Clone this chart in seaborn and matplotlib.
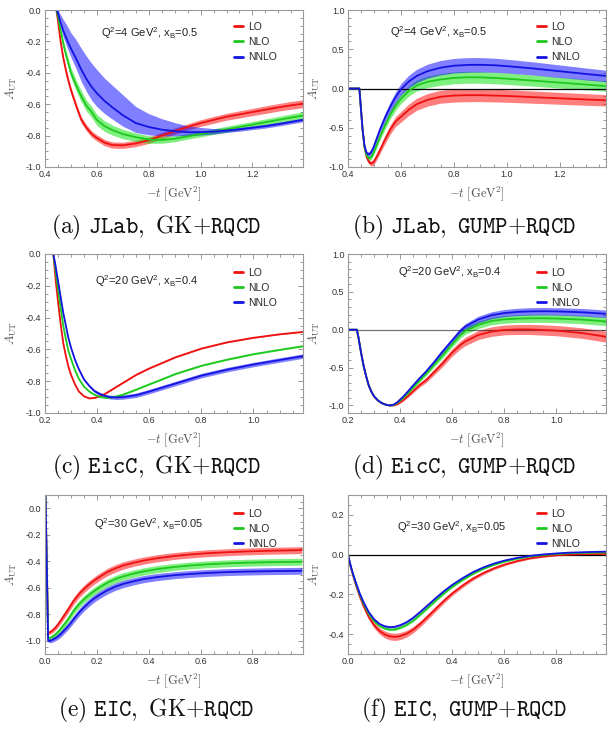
import numpy as np
import pandas as pd
import matplotlib
matplotlib.use('Agg')
import matplotlib.pyplot as plt
import seaborn as sns
from matplotlib.ticker import MultipleLocator, FuncFormatter
from matplotlib.lines import Line2D

# ---------------- data ----------------
ORDERS = ['LO', 'NLO', 'NNLO']

# (a) JLab, GK+RQCD
xa = [0.400, 0.444, 0.450, 0.460, 0.470, 0.480, 0.490, 0.500, 0.520, 0.540, 0.560, 0.580, 0.600, 0.630, 0.660,
      0.700, 0.750, 0.800, 0.850, 0.900, 0.950, 1.000, 1.050, 1.100, 1.150, 1.200, 1.250, 1.300, 1.350, 1.395]
lo_a = [0, 0, -0.07, -0.20, -0.30, -0.38, -0.45, -0.51, -0.61, -0.70, -0.75, -0.79, -0.815, -0.845, -0.86,
        -0.862, -0.85, -0.83, -0.80, -0.772, -0.745, -0.72, -0.70, -0.68, -0.665, -0.65, -0.635, -0.62, -0.607, -0.597]
nlo_a = [0, 0, -0.04, -0.13, -0.21, -0.28, -0.34, -0.40, -0.48, -0.55, -0.61, -0.65, -0.70, -0.74, -0.765,
         -0.79, -0.81, -0.825, -0.828, -0.82, -0.805, -0.79, -0.775, -0.76, -0.745, -0.73, -0.715, -0.70, -0.685, -0.672]
nnlo_a = [0, 0, -0.02, -0.08, -0.13, -0.17, -0.21, -0.245, -0.31, -0.38, -0.44, -0.49, -0.53, -0.58, -0.62,
          -0.67, -0.72, -0.745, -0.762, -0.772, -0.778, -0.778, -0.775, -0.768, -0.76, -0.75, -0.74, -0.727, -0.713, -0.70]
err_lo_a = [0, 0, 0.008, 0.012, 0.015, 0.018, 0.02, 0.02, 0.02, 0.02, 0.02, 0.02, 0.02, 0.02, 0.02,
            0.02, 0.02, 0.02, 0.02, 0.02, 0.02, 0.021, 0.022, 0.022, 0.023, 0.023, 0.024, 0.024, 0.025, 0.025]
err_nlo_a = [0, 0, 0.01, 0.018, 0.024, 0.028, 0.03, 0.032, 0.034, 0.035, 0.035, 0.035, 0.035, 0.034, 0.032,
             0.03, 0.027, 0.024, 0.021, 0.019, 0.018, 0.018, 0.018, 0.019, 0.02, 0.02, 0.021, 0.022, 0.023, 0.024]
err_nnlo_up_a = [0, 0, 0.02, 0.05, 0.07, 0.085, 0.095, 0.10, 0.12, 0.135, 0.145, 0.15, 0.15, 0.145, 0.14,
                 0.13, 0.105, 0.085, 0.07, 0.055, 0.04, 0.03, 0.02, 0.015, 0.012, 0.012, 0.012, 0.012, 0.012, 0.012]
err_nnlo_dn_a = [0, 0, 0.01, 0.03, 0.04, 0.045, 0.05, 0.055, 0.065, 0.075, 0.08, 0.085, 0.085, 0.08, 0.075,
                 0.07, 0.06, 0.05, 0.04, 0.03, 0.022, 0.018, 0.015, 0.012, 0.012, 0.012, 0.012, 0.012, 0.012, 0.012]

# (b) JLab, GUMP+RQCD
xb = [0.400, 0.443, 0.448, 0.455, 0.462, 0.470, 0.478, 0.486, 0.495, 0.505, 0.520, 0.540, 0.560, 0.580,
      0.600, 0.630, 0.660, 0.700, 0.750, 0.800, 0.850, 0.900, 0.950, 1.000, 1.100, 1.200, 1.300, 1.375]
lo_b = [0, 0, -0.22, -0.52, -0.74, -0.87, -0.93, -0.955, -0.945, -0.89, -0.79, -0.65, -0.52, -0.42,
        -0.36, -0.27, -0.20, -0.145, -0.105, -0.09, -0.085, -0.085, -0.09, -0.095, -0.11, -0.125, -0.14, -0.15]
nlo_b = [0, 0, -0.22, -0.52, -0.74, -0.85, -0.89, -0.88, -0.83, -0.75, -0.62, -0.47, -0.33, -0.22,
         -0.13, -0.03, 0.04, 0.085, 0.115, 0.135, 0.143, 0.142, 0.135, 0.125, 0.10, 0.075, 0.05, 0.03]
nnlo_b = [0, 0, -0.22, -0.52, -0.72, -0.82, -0.84, -0.82, -0.76, -0.67, -0.53, -0.37, -0.23, -0.11,
          -0.01, 0.09, 0.16, 0.22, 0.265, 0.29, 0.30, 0.302, 0.297, 0.285, 0.255, 0.22, 0.185, 0.16]
err_lo_b = [0, 0, 0.01, 0.015, 0.02, 0.025, 0.03, 0.032, 0.035, 0.04, 0.045, 0.052, 0.058, 0.063,
            0.068, 0.073, 0.077, 0.08, 0.082, 0.083, 0.083, 0.082, 0.081, 0.08, 0.078, 0.076, 0.074, 0.072]
err_nlo_b = [0, 0, 0.01, 0.015, 0.02, 0.022, 0.026, 0.03, 0.033, 0.037, 0.042, 0.048, 0.053, 0.058,
             0.062, 0.066, 0.07, 0.073, 0.075, 0.076, 0.076, 0.075, 0.074, 0.073, 0.071, 0.069, 0.067, 0.065]
err_nnlo_b = [0, 0, 0.01, 0.015, 0.02, 0.025, 0.03, 0.033, 0.037, 0.042, 0.048, 0.055, 0.062, 0.068,
              0.074, 0.08, 0.085, 0.089, 0.092, 0.093, 0.093, 0.092, 0.09, 0.088, 0.084, 0.08, 0.076, 0.073]

# (c) EicC, GK+RQCD
xc = [0.232, 0.240, 0.250, 0.260, 0.270, 0.280, 0.290, 0.300, 0.315, 0.330, 0.350, 0.370, 0.390, 0.410,
      0.430, 0.450, 0.475, 0.500, 0.550, 0.600, 0.650, 0.700, 0.800, 0.900, 1.000, 1.100, 1.190]
lo_c = [0, -0.15, -0.30, -0.44, -0.56, -0.64, -0.71, -0.76, -0.82, -0.865, -0.895, -0.908, -0.905, -0.895,
        -0.88, -0.86, -0.835, -0.81, -0.76, -0.72, -0.685, -0.65, -0.595, -0.555, -0.527, -0.505, -0.49]
nlo_c = [0, -0.10, -0.22, -0.34, -0.45, -0.535, -0.61, -0.66, -0.73, -0.785, -0.835, -0.865, -0.885, -0.898,
         -0.904, -0.903, -0.895, -0.884, -0.853, -0.82, -0.788, -0.755, -0.703, -0.664, -0.63, -0.603, -0.58]
nnlo_c = [0, -0.07, -0.17, -0.27, -0.37, -0.45, -0.53, -0.59, -0.665, -0.725, -0.79, -0.83, -0.862, -0.88,
          -0.893, -0.90, -0.902, -0.90, -0.888, -0.865, -0.84, -0.815, -0.765, -0.727, -0.695, -0.667, -0.642]
err_lo_c = [0, 0.002, 0.003, 0.003, 0.003, 0.003, 0.003, 0.003, 0.003, 0.003, 0.003, 0.003, 0.003, 0.003,
            0.003, 0.003, 0.003, 0.003, 0.003, 0.003, 0.003, 0.003, 0.003, 0.003, 0.003, 0.003, 0.003]
err_nlo_c = [0, 0.002, 0.003, 0.004, 0.004, 0.004, 0.004, 0.004, 0.004, 0.004, 0.004, 0.004, 0.004, 0.004,
             0.004, 0.004, 0.004, 0.004, 0.004, 0.004, 0.004, 0.004, 0.004, 0.004, 0.004, 0.004, 0.004]
err_nnlo_c = [0, 0.002, 0.003, 0.004, 0.005, 0.005, 0.006, 0.006, 0.007, 0.007, 0.008, 0.008, 0.009, 0.01,
              0.011, 0.012, 0.013, 0.013, 0.014, 0.014, 0.014, 0.014, 0.014, 0.014, 0.014, 0.014, 0.014]

# (d) EicC, GUMP+RQCD
xd = [0.200, 0.234, 0.240, 0.250, 0.260, 0.270, 0.280, 0.290, 0.300, 0.315, 0.330, 0.345, 0.360,
      0.375, 0.390, 0.410, 0.430, 0.450, 0.475, 0.500, 0.530, 0.560, 0.600, 0.630, 0.650, 0.700,
      0.750, 0.800, 0.850, 0.900, 0.950, 1.000, 1.100, 1.190]
lo_d = [0, 0, -0.10, -0.30, -0.48, -0.62, -0.74, -0.82, -0.88, -0.935, -0.97, -0.99, -1.0,
        -0.997, -0.98, -0.935, -0.875, -0.81, -0.73, -0.665, -0.56, -0.455, -0.30, -0.205, -0.155, -0.07,
        -0.025, -0.003, 0.004, 0.003, -0.004, -0.012, -0.045, -0.092]
nlo_d = [0, 0, -0.10, -0.30, -0.48, -0.62, -0.74, -0.82, -0.88, -0.935, -0.97, -0.99, -1.0,
         -0.993, -0.965, -0.91, -0.84, -0.765, -0.67, -0.58, -0.465, -0.35, -0.19, -0.075, -0.015, 0.065,
         0.115, 0.137, 0.147, 0.151, 0.151, 0.148, 0.133, 0.11]
nnlo_d = [0, 0, -0.10, -0.30, -0.48, -0.62, -0.74, -0.82, -0.88, -0.935, -0.97, -0.99, -1.0,
          -0.99, -0.955, -0.89, -0.815, -0.735, -0.64, -0.55, -0.43, -0.30, -0.14, -0.02, 0.04, 0.135,
          0.19, 0.22, 0.235, 0.242, 0.244, 0.242, 0.23, 0.21]
err_lo_d = [0, 0, 0.003, 0.004, 0.005, 0.005, 0.005, 0.005, 0.005, 0.006, 0.006, 0.007, 0.008,
            0.01, 0.012, 0.015, 0.019, 0.023, 0.028, 0.033, 0.038, 0.043, 0.049, 0.053, 0.056, 0.06,
            0.063, 0.065, 0.066, 0.067, 0.068, 0.068, 0.07, 0.072]
err_nlo_d = [0, 0, 0.003, 0.003, 0.004, 0.004, 0.004, 0.004, 0.004, 0.005, 0.005, 0.006, 0.006,
             0.008, 0.01, 0.012, 0.015, 0.018, 0.022, 0.026, 0.03, 0.034, 0.039, 0.042, 0.045, 0.048,
             0.05, 0.052, 0.053, 0.054, 0.054, 0.054, 0.055, 0.056]
err_nnlo_d = [0, 0, 0.003, 0.003, 0.004, 0.004, 0.004, 0.004, 0.004, 0.005, 0.005, 0.005, 0.006,
              0.007, 0.009, 0.011, 0.014, 0.017, 0.02, 0.024, 0.028, 0.032, 0.036, 0.039, 0.041, 0.044,
              0.046, 0.047, 0.048, 0.049, 0.049, 0.049, 0.05, 0.05]

# (e) EIC, GK+RQCD
xe = [0.002, 0.012, 0.020, 0.032, 0.045, 0.058, 0.070, 0.084, 0.097, 0.110, 0.130, 0.150, 0.170, 0.190,
      0.215, 0.240, 0.270, 0.300, 0.340, 0.380, 0.430, 0.500, 0.560, 0.620, 0.700, 0.780, 0.860, 0.940, 0.990]
lo_e = [0.09, -0.94, -0.935, -0.917, -0.89, -0.855, -0.82, -0.78, -0.74, -0.70, -0.65, -0.61, -0.575, -0.545,
        -0.512, -0.482, -0.455, -0.433, -0.412, -0.395, -0.378, -0.36, -0.349, -0.34, -0.332, -0.326, -0.321, -0.318, -0.316]
nlo_e = [0.09, -0.98, -0.978, -0.965, -0.945, -0.917, -0.887, -0.853, -0.815, -0.775, -0.727, -0.687, -0.655, -0.624,
         -0.592, -0.563, -0.536, -0.515, -0.494, -0.477, -0.46, -0.443, -0.432, -0.424, -0.416, -0.411, -0.407, -0.405, -0.404]
nnlo_e = [0.09, -1.0, -1.0, -0.99, -0.975, -0.955, -0.93, -0.902, -0.872, -0.838, -0.79, -0.748, -0.712, -0.68,
          -0.648, -0.62, -0.593, -0.572, -0.552, -0.535, -0.52, -0.505, -0.496, -0.489, -0.482, -0.478, -0.475, -0.473, -0.472]
err_e = [0, 0.012, 0.015, 0.018, 0.02, 0.022, 0.024, 0.025, 0.026, 0.027, 0.028, 0.028, 0.028, 0.028,
         0.028, 0.028, 0.028, 0.028, 0.027, 0.027, 0.027, 0.026, 0.026, 0.026, 0.026, 0.026, 0.026, 0.026, 0.026]

# (f) EIC, GUMP+RQCD
xf = [0.000, 0.010, 0.020, 0.030, 0.045, 0.060, 0.080, 0.100, 0.120, 0.140, 0.160, 0.180, 0.200,
      0.225, 0.250, 0.280, 0.310, 0.340, 0.370, 0.400, 0.440, 0.480, 0.520, 0.560, 0.600,
      0.650, 0.700, 0.750, 0.800, 0.850, 0.900, 0.950, 0.990]
lo_f = [0, -0.06, -0.108, -0.152, -0.21, -0.26, -0.315, -0.355, -0.383, -0.401, -0.411, -0.414, -0.41,
        -0.398, -0.378, -0.345, -0.307, -0.268, -0.23, -0.195, -0.155, -0.12, -0.092, -0.069, -0.05,
        -0.032, -0.018, -0.009, -0.003, 0.0, 0.002, 0.003, 0.004]
nlo_f = [0, -0.057, -0.103, -0.145, -0.2, -0.247, -0.298, -0.335, -0.358, -0.371, -0.377, -0.376, -0.368,
         -0.353, -0.332, -0.299, -0.263, -0.227, -0.193, -0.162, -0.127, -0.096, -0.071, -0.051, -0.035,
         -0.02, -0.009, -0.002, 0.003, 0.007, 0.009, 0.01, 0.011]
nnlo_f = [0, -0.055, -0.10, -0.14, -0.195, -0.24, -0.29, -0.325, -0.348, -0.36, -0.365, -0.363, -0.355,
          -0.34, -0.318, -0.285, -0.25, -0.215, -0.182, -0.152, -0.118, -0.088, -0.064, -0.045, -0.03,
          -0.016, -0.006, 0.001, 0.006, 0.01, 0.012, 0.014, 0.015]
err_lo_f = [0, 0.002, 0.004, 0.006, 0.008, 0.01, 0.012, 0.014, 0.016, 0.017, 0.018, 0.018, 0.018,
            0.017, 0.016, 0.015, 0.014, 0.013, 0.012, 0.011, 0.01, 0.009, 0.008, 0.007, 0.006,
            0.005, 0.004, 0.004, 0.003, 0.003, 0.003, 0.003, 0.003]
err_nlo_f = [0, 0.001, 0.002, 0.003, 0.003, 0.004, 0.004, 0.005, 0.005, 0.006, 0.006, 0.006, 0.006,
             0.006, 0.006, 0.005, 0.005, 0.005, 0.005, 0.004, 0.004, 0.004, 0.003, 0.003, 0.003,
             0.003, 0.002, 0.002, 0.002, 0.002, 0.002, 0.002, 0.002]
err_nnlo_f = [0, 0.001, 0.002, 0.002, 0.003, 0.003, 0.003, 0.004, 0.004, 0.004, 0.004, 0.004, 0.004,
              0.004, 0.004, 0.004, 0.004, 0.004, 0.003, 0.003, 0.003, 0.003, 0.003, 0.002, 0.002,
              0.002, 0.002, 0.002, 0.002, 0.002, 0.002, 0.002, 0.002]

kin_labels = [r'Q$^2$=4 GeV$^2$, x$_\mathrm{B}$=0.5', r'Q$^2$=4 GeV$^2$, x$_\mathrm{B}$=0.5',
              r'Q$^2$=20 GeV$^2$, x$_\mathrm{B}$=0.4', r'Q$^2$=20 GeV$^2$, x$_\mathrm{B}$=0.4',
              r'Q$^2$=30 GeV$^2$, x$_\mathrm{B}$=0.05', r'Q$^2$=30 GeV$^2$, x$_\mathrm{B}$=0.05']
captions = [r'$\mathrm{(a)}\ \mathtt{JLab},\ \mathrm{GK}{+}\mathtt{RQCD}$',
            r'$\mathrm{(b)}\ \mathtt{JLab},\ \mathtt{GUMP}{+}\mathtt{RQCD}$',
            r'$\mathrm{(c)}\ \mathtt{EicC},\ \mathrm{GK}{+}\mathtt{RQCD}$',
            r'$\mathrm{(d)}\ \mathtt{EicC},\ \mathtt{GUMP}{+}\mathtt{RQCD}$',
            r'$\mathrm{(e)}\ \mathtt{EIC},\ \mathrm{GK}{+}\mathtt{RQCD}$',
            r'$\mathrm{(f)}\ \mathtt{EIC},\ \mathtt{GUMP}{+}\mathtt{RQCD}$']

# ---------------- style ----------------
sns.set_style('ticks')
plt.rcParams.update({
    'font.family': ['Liberation Sans', 'DejaVu Sans'],
    'mathtext.fontset': 'custom',
    'mathtext.rm': 'Liberation Sans',
    'mathtext.it': 'Liberation Sans:italic',
    'mathtext.bf': 'Liberation Sans:bold',
    'mathtext.sf': 'Liberation Sans',
    'axes.unicode_minus': False,
})

LINE_COLORS = {'LO': '#ee1111', 'NLO': '#1ec81e', 'NNLO': '#1414e0'}
BAND_COLORS = {'LO': '#ff0000', 'NLO': '#00e000', 'NNLO': '#0000ff'}

W, H = 616, 729
fig = plt.figure(figsize=(W / 100, H / 100), dpi=100)

col_left = [45, 348]
axw = 258
row_top = [10, 254, 495]
row_h = [157, 159, 159]


def make_ax(r, c):
    l = col_left[c] / W
    b = 1 - (row_top[r] + row_h[r]) / H
    return fig.add_axes([l, b, axw / W, row_h[r] / H])


fmt = FuncFormatter(lambda v, p: ('%.1f' % v).replace('-0.0', '0.0'))


def panel(ax, x, ys, dns, ups, xlim, ylim, ymaj, ymin, kin, kin_pos, leg_y, zero=None):
    x = np.asarray(x)
    for o, y, d, u in zip(ORDERS, ys, dns, ups):
        y = np.asarray(y)
        ax.fill_between(x, y - np.asarray(d), y + np.asarray(u), color=BAND_COLORS[o],
                        alpha=0.5, lw=0, zorder=1)
    if zero is not None:
        ax.axhline(0, color='black', lw=0.9, alpha=zero, zorder=1.5)
    df = pd.DataFrame({'t': np.tile(x, 3), 'A': np.concatenate([np.asarray(y) for y in ys]),
                       'order': np.repeat(ORDERS, len(x))})
    sns.lineplot(data=df, x='t', y='A', hue='order', hue_order=ORDERS, palette=LINE_COLORS,
                 ax=ax, legend=False, lw=1.3, estimator=None, sort=False, zorder=2)
    ax.set_xlim(*xlim)
    ax.set_ylim(*ylim)
    ax.xaxis.set_major_locator(MultipleLocator(0.2))
    ax.xaxis.set_minor_locator(MultipleLocator(0.05))
    ax.yaxis.set_major_locator(MultipleLocator(ymaj))
    ax.yaxis.set_minor_locator(MultipleLocator(ymin))
    ax.xaxis.set_major_formatter(fmt)
    ax.yaxis.set_major_formatter(fmt)
    ax.tick_params(which='both', direction='in', top=True, right=True, color='#888888',
                   width=0.6, labelsize=6.5, labelcolor='#333333', pad=2.5)
    ax.tick_params(which='major', length=3.5)
    ax.tick_params(which='minor', length=2)
    for s in ax.spines.values():
        s.set_color('#999999')
        s.set_linewidth(0.8)
    ax.set_xlabel(r'$-t\ [\mathrm{GeV}^2]$', math_fontfamily='cm', fontsize=9, color='#555555')
    ax.set_ylabel(r'$A_{\mathrm{UT}}$', math_fontfamily='cm', fontsize=9, color='#555555')
    ax.xaxis.set_label_coords(0.5, -0.11)
    ax.yaxis.set_label_coords(-0.1, 0.5)
    ax.text(kin_pos[0], kin_pos[1], kin, transform=ax.transAxes, ha='center', va='center',
            fontsize=8, color='#222222')
    handles = [Line2D([], [], color=LINE_COLORS[o], lw=2.0) for o in ORDERS]
    ax.legend(handles, ORDERS, loc='upper left', bbox_to_anchor=(0.733, leg_y), frameon=False,
              fontsize=7.5, handlelength=0.9, handletextpad=0.45, labelspacing=0.5,
              borderpad=0, borderaxespad=0)


ax = make_ax(0, 0)
panel(ax, xa, [lo_a, nlo_a, nnlo_a], [err_lo_a, err_nlo_a, err_nnlo_dn_a],
      [err_lo_a, err_nlo_a, err_nnlo_up_a], (0.4, 1.395), (-1.0, 0.0), 0.2, 0.05,
      kin_labels[0], (0.405, 0.855), 0.925)

ax = make_ax(0, 1)
panel(ax, xb, [lo_b, nlo_b, nnlo_b], [err_lo_b, err_nlo_b, err_nnlo_b],
      [err_lo_b, err_nlo_b, err_nnlo_b], (0.4, 1.375), (-1.0, 1.0), 0.5, 0.1,
      kin_labels[1], (0.35, 0.862), 0.925, zero=1.0)

ax = make_ax(1, 0)
panel(ax, xc, [lo_c, nlo_c, nnlo_c], [err_lo_c, err_nlo_c, err_nnlo_c],
      [err_lo_c, err_nlo_c, err_nnlo_c], (0.2, 1.19), (-1.0, 0.0), 0.2, 0.05,
      kin_labels[2], (0.395, 0.832), 0.915)

ax = make_ax(1, 1)
panel(ax, xd, [lo_d, nlo_d, nnlo_d], [err_lo_d, err_nlo_d, err_nnlo_d],
      [err_lo_d, err_nlo_d, err_nnlo_d], (0.2, 1.19), (-1.1, 1.0), 0.5, 0.1,
      kin_labels[3], (0.395, 0.887), 0.915, zero=0.55)

ax = make_ax(2, 0)
panel(ax, xe, [lo_e, nlo_e, nnlo_e], [err_e, err_e, err_e], [err_e, err_e, err_e],
      (0.0, 0.995), (-1.1, 0.1), 0.2, 0.05, kin_labels[4], (0.40, 0.82), 0.915)

ax = make_ax(2, 1)
panel(ax, xf, [lo_f, nlo_f, nnlo_f], [err_lo_f, err_nlo_f, err_nnlo_f],
      [err_lo_f, err_nlo_f, err_nnlo_f], (0.0, 0.99), (-0.5, 0.3), 0.2, 0.05,
      kin_labels[5], (0.40, 0.80), 0.915, zero=1.0)

cap_x = [156 / W, 464 / W]
cap_y = [1 - 227 / H, 1 - 467 / H, 1 - 710 / H]
for i, cap in enumerate(captions):
    fig.text(cap_x[i % 2], cap_y[i // 2], cap, math_fontfamily='cm', fontsize=17,
             ha='center', va='center', color='#111111')

fig.savefig('out.png', dpi=100)
